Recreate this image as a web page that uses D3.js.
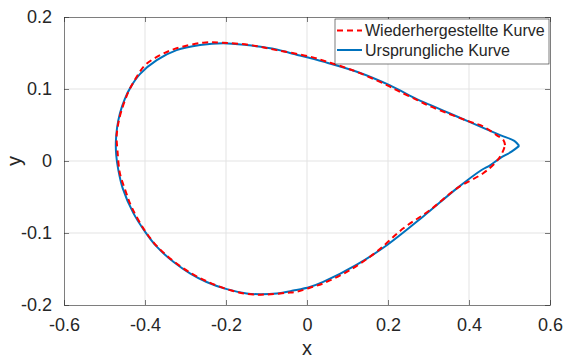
<!DOCTYPE html>
<html>
<head>
<meta charset="utf-8">
<script src="https://d3js.org/d3.v7.min.js"></script>
<style>
  body { margin: 0; background: #fff; }
  text { font-family: "Liberation Sans", Arial, Helvetica, sans-serif; fill: #262626; }
</style>
</head>
<body>
<svg id="chart" width="565" height="358"></svg>
<script>
// tick labels
var xTicks = [-0.6, -0.4, -0.2, 0, 0.2, 0.4, 0.6];
var yTicks = [-0.2, -0.1, 0, 0.1, 0.2];
var seriesNames = ["Wiederhergestellte Kurve", "Ursprungliche Kurve"];

// original curve (blue)
var origX = [0.524, 0.512, 0.477, 0.4025, 0.353, 0.304, 0.271, 0.205, 0.123, 0.040, -0.042, -0.075, -0.149, -0.207, -0.264, -0.322, -0.371, -0.412, -0.434, -0.450, -0.462, -0.469, -0.472, -0.471, -0.466, -0.455, -0.429, -0.400, -0.371, -0.330, -0.289, -0.248, -0.198, -0.149, -0.116, -0.075, -0.034, 0.007, 0.040, 0.123, 0.197, 0.287, 0.370, 0.431, 0.452, 0.477, 0.505, 0.524];
var origY = [0.021, 0.028, 0.036, 0.054, 0.066, 0.078, 0.086, 0.105, 0.124, 0.138, 0.150, 0.155, 0.161, 0.1635, 0.161, 0.154, 0.140, 0.121, 0.104, 0.086, 0.066, 0.046, 0.026, 0.008, -0.012, -0.038, -0.072, -0.098, -0.119, -0.140, -0.156, -0.168, -0.178, -0.184, -0.185, -0.184, -0.180, -0.175, -0.168, -0.144, -0.117, -0.077, -0.038, -0.0125, -0.006, 0.004, 0.013, 0.021];

// reconstructed curve (red dashed)
var recX = [0.489, 0.485, 0.468, 0.435, 0.400, 0.353, 0.300, 0.271, 0.230, 0.197, 0.131, 0.098, 0.057, 0.007, -0.075, -0.141, -0.207, -0.256, -0.322, -0.363, -0.400, -0.4205, -0.441, -0.4575, -0.466, -0.470, -0.468, -0.462, -0.449, -0.433, -0.400, -0.371, -0.330, -0.289, -0.248, -0.198, -0.149, -0.100, -0.050, -0.025, 0.007, 0.040, 0.106, 0.172, 0.238, 0.304, 0.370, 0.435, 0.464, 0.4765, 0.485, 0.489];
var recY = [0.022, 0.029, 0.036, 0.048, 0.055, 0.065, 0.077, 0.085, 0.096, 0.1055, 0.122, 0.129, 0.1365, 0.145, 0.154, 0.161, 0.1643, 0.1643, 0.1565, 0.147, 0.133, 0.117, 0.096, 0.071, 0.052, 0.034, 0.015, -0.017, -0.040, -0.064, -0.097, -0.118, -0.139, -0.155, -0.167, -0.178, -0.1845, -0.1855, -0.183, -0.1815, -0.176, -0.170, -0.1514, -0.126, -0.0935, -0.068, -0.038, -0.017, -0.003, 0.006, 0.015, 0.022];

var margin = {top: 17, right: 15, bottom: 53, left: 64},
    width = 565 - margin.left - margin.right,
    height = 358 - margin.top - margin.bottom;

var svg = d3.select("#chart")
  .append("g")
    .attr("transform", "translate(" + margin.left + "," + margin.top + ")");

var x = d3.scaleLinear().domain([-0.6, 0.6]).range([0, width]);
var y = d3.scaleLinear().domain([-0.2, 0.2]).range([height, 0]);

var fmt = function(d) { return d === 0 ? "0" : String(d); };

// grid
svg.append("g")
  .selectAll("line")
  .data(xTicks.slice(1, -1))
  .enter().append("line")
    .attr("x1", d => x(d)).attr("x2", d => x(d))
    .attr("y1", 0).attr("y2", height)
    .attr("stroke", "#e3e3e3");
svg.append("g")
  .selectAll("line")
  .data(yTicks.slice(1, -1))
  .enter().append("line")
    .attr("y1", d => y(d)).attr("y2", d => y(d))
    .attr("x1", 0).attr("x2", width)
    .attr("stroke", "#e3e3e3");

// axes, ticks pointing inward on all four sides
function styleAxis(g) {
  g.select(".domain").attr("stroke", "#262626").attr("stroke-width", 0.6);
  g.selectAll(".tick line").attr("stroke", "#262626").attr("stroke-width", 0.6);
  g.selectAll("text").style("font-size", "18px").attr("fill", "#262626");
}
svg.append("g")
  .attr("transform", "translate(0," + height + ")")
  .call(d3.axisBottom(x).tickValues(xTicks).tickFormat(fmt).tickSizeInner(-5).tickSizeOuter(0).tickPadding(13))
  .call(styleAxis);
svg.append("g")
  .call(d3.axisTop(x).tickValues(xTicks).tickFormat("").tickSizeInner(-5).tickSizeOuter(0))
  .call(styleAxis);
svg.append("g")
  .call(d3.axisLeft(y).tickValues(yTicks).tickFormat(fmt).tickSizeInner(-5).tickSizeOuter(0).tickPadding(12))
  .call(styleAxis);
svg.append("g")
  .attr("transform", "translate(" + width + ",0)")
  .call(d3.axisRight(y).tickValues(yTicks).tickFormat("").tickSizeInner(-5).tickSizeOuter(0))
  .call(styleAxis);

// axis labels
svg.append("text")
  .attr("x", width / 2).attr("y", height + 50)
  .attr("text-anchor", "middle")
  .style("font-size", "20px")
  .text("x");
svg.append("text")
  .attr("transform", "translate(-43," + (height / 2) + ")rotate(-90)")
  .attr("text-anchor", "middle")
  .style("font-size", "20px")
  .text("y");

// curves
var line = d3.line()
  .x(d => x(d[0]))
  .y(d => y(d[1]))
  .curve(d3.curveCatmullRom.alpha(0.5));

var orig = d3.zip(origX, origY);
var rec = d3.zip(recX, recY);

svg.append("path")
  .datum(orig)
  .attr("d", line)
  .attr("fill", "none")
  .attr("stroke", "#0072BD")
  .attr("stroke-width", 2);

svg.append("path")
  .datum(rec)
  .attr("d", line)
  .attr("fill", "none")
  .attr("stroke", "#FF0000")
  .attr("stroke-width", 2)
  .attr("stroke-dasharray", "6,4");

// legend
var legend = svg.append("g").attr("transform", "translate(" + (335 - margin.left) + "," + (19 - margin.top) + ")");
legend.append("rect")
  .attr("width", 214).attr("height", 45)
  .attr("fill", "#fff")
  .attr("stroke", "#262626").attr("stroke-width", 0.6);
var styles = [{c: "#FF0000", dash: "6,4"}, {c: "#0072BD", dash: null}];
seriesNames.forEach(function(name, i) {
  var yy = 11.5 + i * 19.5;
  legend.append("line")
    .attr("x1", 2).attr("x2", 27)
    .attr("y1", yy).attr("y2", yy)
    .attr("stroke", styles[i].c)
    .attr("stroke-width", 2)
    .attr("stroke-dasharray", styles[i].dash);
  legend.append("text")
    .attr("x", 30).attr("y", yy + 5.5)
    .style("font-size", "16px")
    .text(name);
});
</script>
</body>
</html>
